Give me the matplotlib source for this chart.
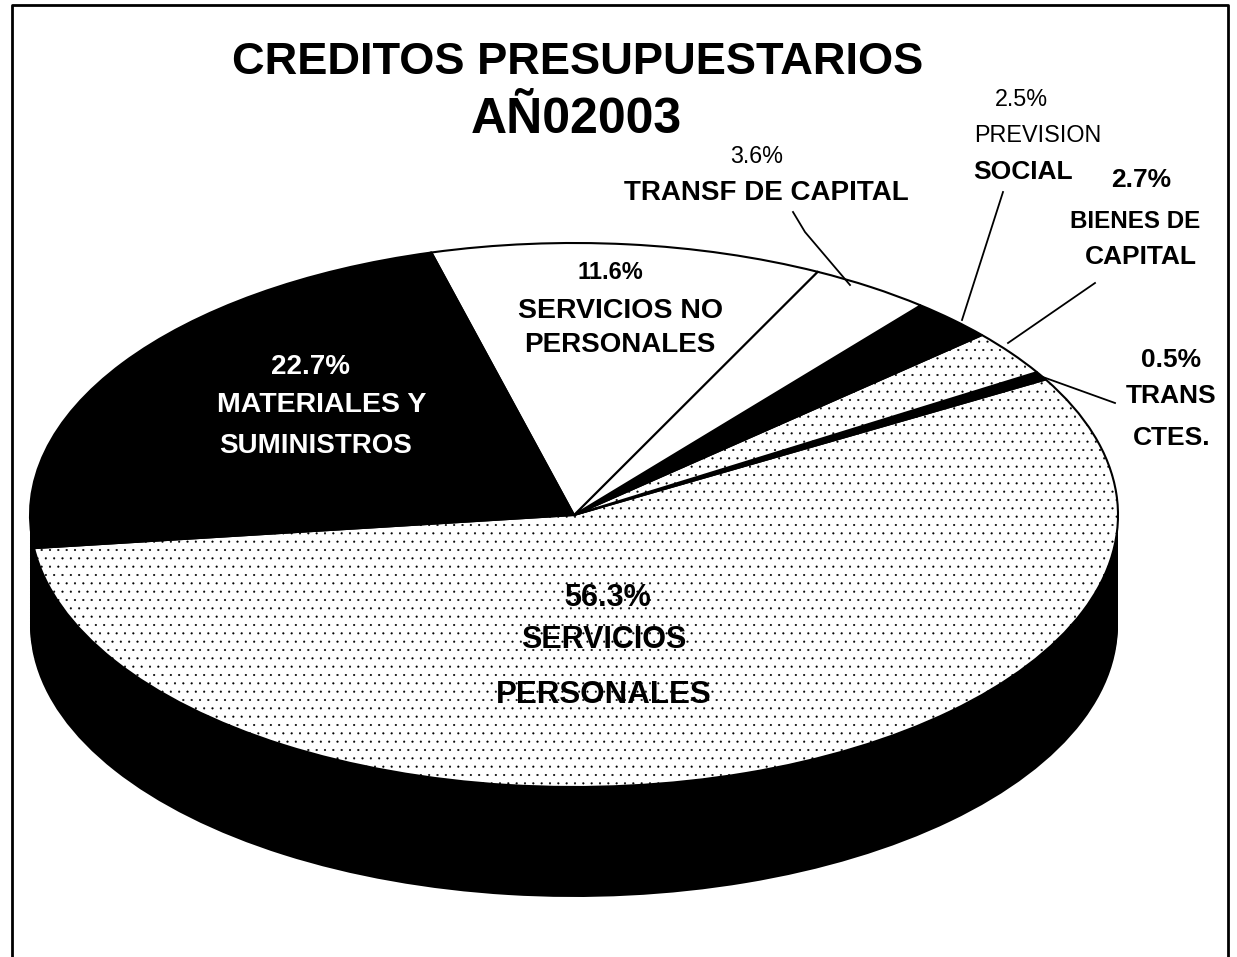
import matplotlib
matplotlib.use("Agg")
import matplotlib.pyplot as plt
from matplotlib.lines import Line2D

plt.rcParams['font.family'] = ['Liberation Sans', 'DejaVu Sans']
plt.rcParams['hatch.linewidth'] = 0.3

# slices, counterclockwise from the left edge of the pie
names = ["SERVICIOS PERSONALES", "TRANS CTES.", "BIENES DE CAPITAL", "PREVISION SOCIAL",
         "TRANSF DE CAPITAL", "SERVICIOS NO PERSONALES", "MATERIALES Y SUMINISTROS"]
values = [56.3, 0.5, 2.7, 2.5, 3.6, 11.6, 22.7]
colors = ["white", "black", "white", "black", "white", "white", "black"]
stippled = [True, False, True, False, False, False, False]

W, H = 1237, 957
CX, CY, RX, RY = 574, 515, 544, 272
DEPTH = 110

fig = plt.figure(figsize=(W / 100, H / 100), dpi=100, facecolor="white")
ax = fig.add_axes([0, 0, 1, 1])

# side wall: the same pie in black, stepped downward
for d in range(DEPTH, 0, -3):
    ax.pie(values, startangle=187, colors=["black"] * len(values),
           center=(0, -d / RY), normalize=True)

wedges, _ = ax.pie(values, startangle=187, colors=colors, normalize=True,
                   wedgeprops={"edgecolor": "black", "linewidth": 1.5})
for w, s in zip(wedges, stippled):
    if s:
        w.set_hatch("..")

ax.set_aspect("auto")
ax.set_xlim(-CX / RX, (W - CX) / RX)
ax.set_ylim((CY - H) / RY, CY / RY)
ax.axis("off")


def label(x, y, s, size=19, weight="bold", color="black"):
    fig.text(x / W, 1 - y / H, s, ha="center", va="center", fontsize=size,
             fontweight=weight, color=color)


def line(xs, ys, lw=1.3, ls="-"):
    fig.add_artist(Line2D([x / W for x in xs], [1 - y / H for y in ys],
                          color="black", linewidth=lw, linestyle=ls))


# frame, open at the bottom
line([12, 12, 1228, 1228], [957, 5, 5, 957], lw=2)

# leaders
line([793, 805, 850], [212, 232, 285])
line([1003, 962], [192, 320])
line([1095, 1008], [283, 343])
line([1040, 1115], [376, 403])

label(578, 62, "CREDITOS PRESUPUESTARIOS", size=32.6)
label(576, 120, "AÑ02003", size=36)
label(757, 157, "3.6%", size=16.8, weight="normal")
label(766, 193, "TRANSF DE CAPITAL", size=20)
label(1021, 99, "2.5%", size=16.8, weight="normal")
label(1038, 135, "PREVISION", size=16.8, weight="normal")
label(1023, 172, "SOCIAL", size=19)
label(1141, 180, "2.7%", size=19)
label(1135, 222, "BIENES DE", size=17.4)
label(1141, 257, "CAPITAL", size=19)
label(1171, 360, "0.5%", size=19)
label(1171, 396, "TRANS", size=19)
label(1172, 438, "CTES.", size=19)
label(610, 272, "11.6%", size=17)
label(621, 311, "SERVICIOS NO", size=20.5)
label(620, 345, "PERSONALES", size=20)
label(311, 367, "22.7%", size=20, color="white")
label(322, 405, "MATERIALES Y", size=20.5, color="white")
label(316, 446, "SUMINISTROS", size=20, color="white")
label(607, 598, "56.3%", size=22)
label(604, 640, "SERVICIOS", size=22)
label(604, 695, "PERSONALES", size=22.5)

fig.savefig("out.png", dpi=100)
